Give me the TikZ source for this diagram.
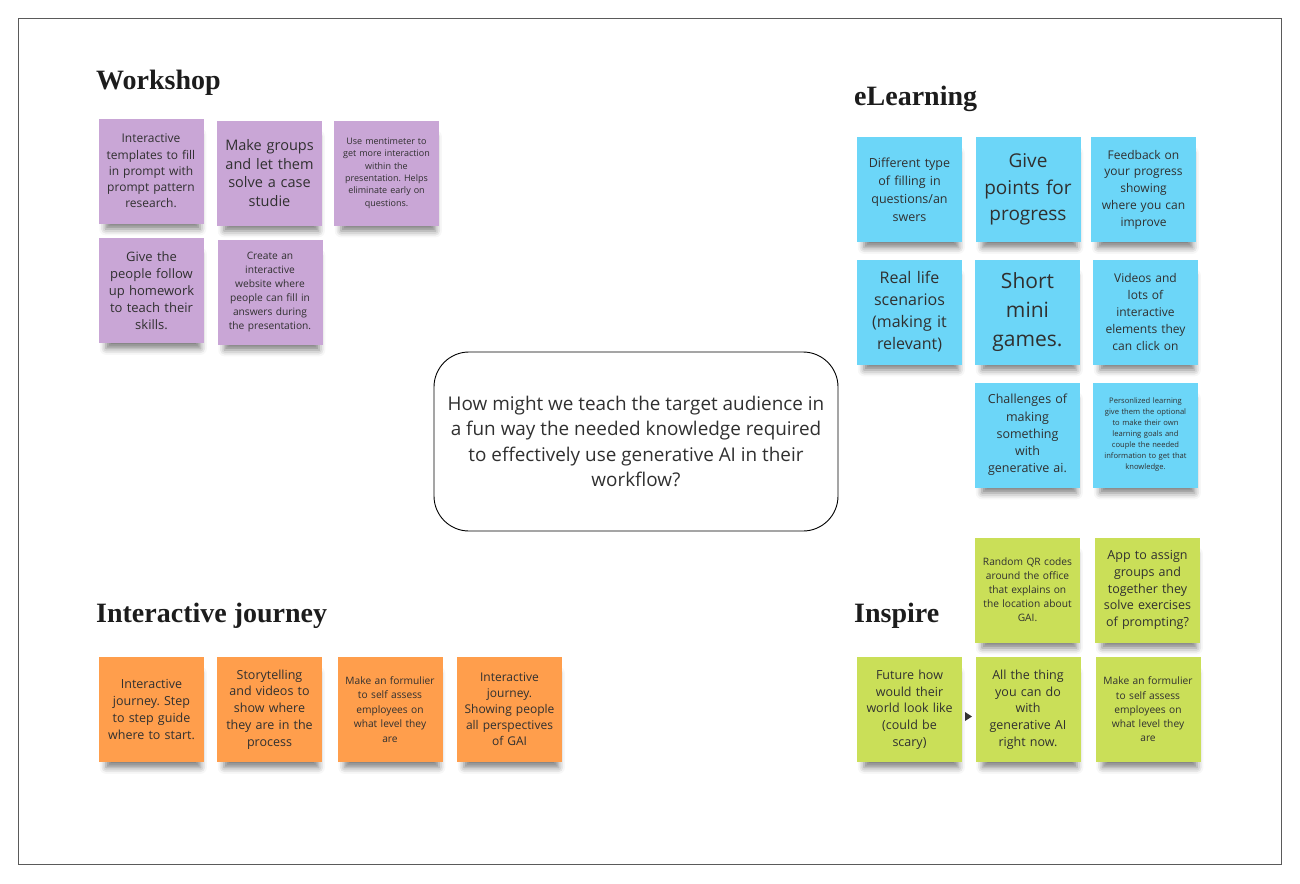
\documentclass[tikz,border=0pt]{standalone}
\usepackage{fontspec}
\usepackage{tikz}
\usetikzlibrary{shadows.blur}
\newfontfamily\notefont{Open Sans}
\newfontfamily\headfont{Liberation Serif}
\newcommand\fsz[2]{\fontsize{#1}{#2}\selectfont}
\frenchspacing
\definecolor{violetnote}{RGB}{201,166,214}
\definecolor{bluenote}{RGB}{108,214,248}
\definecolor{greennote}{RGB}{202,223,88}
\definecolor{orangenote}{RGB}{255,158,76}
\definecolor{notetext}{RGB}{48,48,48}
\definecolor{headtext}{RGB}{28,28,28}
\definecolor{frame}{RGB}{90,90,90}
\tikzset{
  note/.style={minimum width=105, minimum height=105, inner sep=0pt, text width=104,
    align=center, text=notetext,
    blur shadow={shadow xshift=2pt, shadow yshift=-12pt, shadow scale=0.9,
      shadow opacity=50, shadow blur radius=7pt}},
  heading/.style={anchor=base west, inner sep=0pt, text=headtext,
    font=\headfont\bfseries\fsz{28}{30}},
}

\begin{document}
\begin{tikzpicture}[x=1pt, y=-1pt]
      % 1. 畫布與外框
      \useasboundingbox (0,0) rectangle (1300,883);
      \draw[frame, line width=1pt] (18.5,18.5) rectangle (1281.5,864.5);

      % 2. 四個標題
      \node[heading] (workshop) at (96,89) {Workshop};
      \node[heading] (elearning) at (854,105) {eLearning};
      \node[heading] (journey) at (96,622) {Interactive journey};
      \node[heading] (inspire) at (854,622) {Inspire};

      % 3. 中間的問題
      \node[draw=black, line width=0.9pt, rounded corners=35, minimum width=404, minimum height=179,
        align=center, text=notetext, font=\notefont\fsz{18.9}{25.3}] (question) at (636,441.5)
        {How might we teach the target audience in\\a fun way the needed knowledge required\\to effectively use generative AI in their\\workflow?};

      % 4. Workshop 便利貼
      \node[note, fill=violetnote, font=\notefont\fsz{12}{16.3}] (ws1) at (151,171)
        {Interactive\\templates to fill\\in prompt with\\prompt pattern\\research.};
      \node[note, fill=violetnote, font=\notefont\fsz{14.5}{18.5}] (ws2) at (269.5,173)
        {Make groups\\and let them\\solve a case\\studie};
      \node[note, fill=violetnote, font=\notefont\fsz{9}{12.4}] (ws3) at (386.5,173)
        {Use mentimeter to\\get more interaction\\within the\\presentation. Helps\\eliminate early on\\questions.};
      \node[note, fill=violetnote, font=\notefont\fsz{13}{17}] (ws4) at (151.5,290.5)
        {Give the\\people follow\\up homework\\to teach their\\skills.};
      \node[note, fill=violetnote, font=\notefont\fsz{10.2}{13.9}] (ws5) at (270,292)
        {Create an\\interactive\\website where\\people can fill in\\answers during\\the presentation.};

      % 5. eLearning 便利貼
      \node[note, fill=bluenote, font=\notefont\fsz{12.5}{18}] (el1) at (909.5,189.5)
        {Different type\\of filling in\\questions/an\\swers};
      \node[note, fill=bluenote, font=\notefont\fsz{19}{26.7}] (el2) at (1028,189.5)
        {Give\\points for\\progress};
      \node[note, fill=bluenote, font=\notefont\fsz{12}{16.8}] (el3) at (1143.5,189.5)
        {Feedback on\\your progress\\showing\\where you can\\improve};
      \node[note, fill=bluenote, font=\notefont\fsz{16}{22}] (el4) at (909.5,312)
        {Real life\\scenarios\\(making it\\relevant)};
      \node[note, fill=bluenote, font=\notefont\fsz{21}{29}] (el5) at (1027.5,312)
        {Short\\mini\\games.};
      \node[note, fill=bluenote, font=\notefont\fsz{12}{17}] (el6) at (1145.5,312)
        {Videos and\\lots of\\interactive\\elements they\\can click on};
      \node[note, fill=bluenote, font=\notefont\fsz{12.5}{17.2}] (el7) at (1027.5,435)
        {Challenges of\\making\\something\\with\\generative ai.};
      \node[note, fill=bluenote, font=\notefont\fsz{7.6}{11}] (el8) at (1145.5,435)
        {Personlized learning\\give them the optional\\to make their own\\learning goals and\\couple the needed\\information to get that\\knowledge.};

      % 6. Inspire 便利貼
      \node[note, fill=greennote, font=\notefont\fsz{10.2}{14}] (in1) at (1027.5,590)
        {Random QR codes\\around the office\\that explains on\\the location about\\GAI.};
      \node[note, fill=greennote, font=\notefont\fsz{12.5}{16.7}] (in2) at (1147.5,590)
        {App to assign\\groups and\\together they\\solve exercises\\of prompting?};
      \node[note, fill=greennote, font=\notefont\fsz{12.5}{16.7}] (in3) at (909.5,709.5)
        {Future how\\would their\\world look like\\(could be\\scary)};
      \node[note, fill=greennote, font=\notefont\fsz{12.5}{16.7}] (in4) at (1028,709.5)
        {All the thing\\you can do\\with\\generative AI\\right now.};
      \node[note, fill=greennote, font=\notefont\fsz{10.2}{14.3}] (in5) at (1148,709.5)
        {Make an formulier\\to self assess\\employees on\\what level they\\are};
      \fill[black!80] (965,712) -- (972,716.5) -- (965,721) -- cycle;

      % 7. Interactive journey 便利貼
      \node[note, fill=orangenote, font=\notefont\fsz{12.5}{16.8}] (ij1) at (151.5,709.5)
        {Interactive\\journey. Step\\to step guide\\where to start.};
      \node[note, fill=orangenote, font=\notefont\fsz{12.5}{16.8}] (ij2) at (269.5,709.5)
        {Storytelling\\and videos to\\show where\\they are in the\\process};
      \node[note, fill=orangenote, font=\notefont\fsz{10.2}{14.4}] (ij3) at (390,709.5)
        {Make an formulier\\to self assess\\employees on\\what level they\\are};
      \node[note, fill=orangenote, font=\notefont\fsz{12}{16}] (ij4) at (509.5,709.5)
        {Interactive\\journey.\\Showing people\\all perspectives\\of GAI};
\end{tikzpicture}
\end{document}
